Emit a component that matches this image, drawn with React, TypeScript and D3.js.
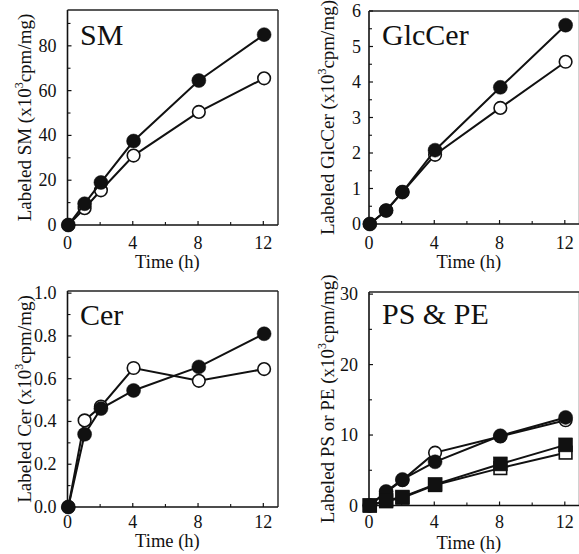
import React from "react";
import * as d3 from "d3";

const time = [0, 1, 2, 4, 8, 12];
const xTicks = [0, 4, 8, 12];
const xMinorTicks = [2, 6, 10];

const smFilled = [0, 9.5, 19, 37.5, 64.5, 85];
const smOpen = [0, 7.5, 15.5, 31, 50.5, 65.5];
const smTicks = [0, 20, 40, 60, 80];
const smMinor = [10, 30, 50, 70, 90];

const glcFilled = [0, 0.38, 0.9, 2.08, 3.85, 5.6];
const glcOpen = [0, 0.38, 0.9, 1.95, 3.27, 4.57];
const glcTicks = [0, 1, 2, 3, 4, 5, 6];
const glcMinor = [0.5, 1.5, 2.5, 3.5, 4.5, 5.5];

const cerFilled = [0, 0.34, 0.46, 0.545, 0.655, 0.81];
const cerOpen = [0, 0.405, 0.47, 0.65, 0.59, 0.645];
const cerTicks = [0, 0.2, 0.4, 0.6, 0.8, 1.0];
const cerMinor = [0.1, 0.3, 0.5, 0.7, 0.9];

const psFilled = [0, 2.0, 3.7, 6.2, 9.9, 12.5];
const psOpen = [0, 1.9, 3.6, 7.5, 9.8, 12.1];
const peFilled = [0, 0.7, 1.2, 3.0, 5.9, 8.6];
const peOpen = [0, 0.6, 1.1, 2.9, 5.3, 7.5];
const psTicks = [0, 10, 20, 30];
const psMinor = [5, 15, 25];

const FONT = "'Liberation Serif', 'Times New Roman', serif";

type Series = { values: number[]; shape: "circle" | "square"; filled: boolean };

type PanelProps = {
  left: number;
  top: number;
  bottom: number;
  yMax: number;
  yTicks: number[];
  yMinor: number[];
  fmt: (v: number) => string;
  title: string;
  titleX: number;
  titleY: number;
  yLabel: string;
  yLabelX: number;
  tickGap: number;
  series: Series[];
  rightBorder: boolean;
  xLabelDy: number;
  tickDy: number;
};

function Panel(p: PanelProps) {
  const width = 210.5;
  const x = d3.scaleLinear().domain([0, 12.9]).range([p.left, p.left + width]);
  const y = d3.scaleLinear().domain([0, p.yMax]).range([p.bottom, p.top]);
  const line = d3
    .line<number>()
    .x((_, i) => x(time[i]) + 0.8)
    .y((d) => y(d));
  const right = p.left + width;
  const cy = (p.top + p.bottom) / 2;
  return (
    <g>
      <line x1={p.left} x2={p.left} y1={p.top} y2={p.bottom} stroke="#111" strokeWidth={1.6} />
      <line x1={p.left} x2={right} y1={p.bottom} y2={p.bottom} stroke="#111" strokeWidth={1.6} />
      <line x1={p.left} x2={right} y1={p.top} y2={p.top} stroke="#222" strokeWidth={1.4} />
      {p.rightBorder && (
        <line x1={right} x2={right} y1={p.top} y2={p.bottom} stroke="#222" strokeWidth={1.4} />
      )}
      {p.yTicks.map((t) => (
        <g key={"yt" + t}>
          <line x1={p.left} x2={p.left + 4} y1={y(t)} y2={y(t)} stroke="#111" strokeWidth={1.2} />
          <text
            x={p.left - p.tickGap}
            y={y(t) + 6}
            textAnchor="end"
            fontFamily={FONT}
            fontSize={18}
            fill="#111"
          >
            {p.fmt(t)}
          </text>
        </g>
      ))}
      {p.yMinor.map((t) => (
        <line key={"ym" + t} x1={p.left} x2={p.left + 3} y1={y(t)} y2={y(t)} stroke="#111" strokeWidth={1.1} />
      ))}
      {xTicks.map((t) => (
        <g key={"xt" + t}>
          <line x1={x(t)} x2={x(t)} y1={p.bottom} y2={p.bottom - 4} stroke="#111" strokeWidth={1.2} />
          <text
            x={x(t)}
            y={p.bottom + p.tickDy}
            textAnchor="middle"
            fontFamily={FONT}
            fontSize={18}
            fill="#111"
          >
            {t}
          </text>
        </g>
      ))}
      {xMinorTicks.map((t) => (
        <line key={"xm" + t} x1={x(t)} x2={x(t)} y1={p.bottom} y2={p.bottom - 3} stroke="#111" strokeWidth={1.1} />
      ))}
      <text
        x={(p.left + x(12)) / 2 + 2}
        y={p.bottom + p.xLabelDy}
        textAnchor="middle"
        fontFamily={FONT}
        fontSize={18.5}
        fill="#111"
      >
        Time (h)
      </text>
      <text
        transform={`translate(${p.yLabelX},${cy}) rotate(-90)`}
        textAnchor="middle"
        fontFamily={FONT}
        fontSize={19}
        fill="#111"
      >
        {p.yLabel} (x10
        <tspan fontSize={12} dy={-8}>
          3
        </tspan>
        <tspan dy={8}>cpm/mg)</tspan>
      </text>
      <text x={p.titleX} y={p.titleY} fontFamily={FONT} fontSize={30} fill="#111">
        {p.title}
      </text>
      {p.series.map((s, si) => (
        <g key={"s" + si}>
          <path d={line(s.values) || ""} fill="none" stroke="#111" strokeWidth={2} />
          {s.values.map((v, i) =>
            s.shape === "circle" ? (
              <circle
                key={i}
                cx={x(time[i]) + 0.8}
                cy={y(v)}
                r={s.filled ? 7 : 6.3}
                fill={s.filled ? "#111" : "#fff"}
                stroke="#111"
                strokeWidth={s.filled ? 0.5 : 1.6}
              />
            ) : (
              <rect
                key={i}
                x={x(time[i]) + 0.8 - (s.filled ? 7 : 6.3)}
                y={y(v) - (s.filled ? 7 : 6.3)}
                width={s.filled ? 14 : 12.6}
                height={s.filled ? 14 : 12.6}
                fill={s.filled ? "#111" : "#fff"}
                stroke="#111"
                strokeWidth={s.filled ? 0.5 : 1.6}
              />
            )
          )}
        </g>
      ))}
    </g>
  );
}

export default function App() {
  return (
    <svg
      width={579}
      height={554}
      style={{ position: "absolute", left: 0, top: 0, background: "#fff" }}
    >
      <rect width={579} height={554} fill="#fff" />
      <Panel
        left={67.5}
        top={10}
        bottom={225}
        yMax={96}
        yTicks={smTicks}
        yMinor={smMinor}
        fmt={(v) => String(v)}
        title="SM"
        titleX={80}
        titleY={45}
        yLabel="Labeled SM"
        yLabelX={31}
        tickGap={11}
        rightBorder={true}
        tickDy={24}
        xLabelDy={43}
        series={[
          { values: smOpen, shape: "circle", filled: false },
          { values: smFilled, shape: "circle", filled: true },
        ]}
      />
      <Panel
        left={369}
        top={11}
        bottom={224}
        yMax={6}
        yTicks={glcTicks}
        yMinor={glcMinor}
        fmt={(v) => String(v)}
        title="GlcCer"
        titleX={382}
        titleY={45}
        yLabel="Labeled GlcCer"
        yLabelX={334}
        tickGap={8}
        rightBorder={true}
        tickDy={25}
        xLabelDy={44}
        series={[
          { values: glcOpen, shape: "circle", filled: false },
          { values: glcFilled, shape: "circle", filled: true },
        ]}
      />
      <Panel
        left={67.5}
        top={291}
        bottom={507}
        yMax={1.01}
        yTicks={cerTicks}
        yMinor={cerMinor}
        fmt={(v) => v.toFixed(1)}
        title="Cer"
        titleX={80}
        titleY={325}
        yLabel="Labeled Cer"
        yLabelX={31}
        tickGap={11}
        rightBorder={true}
        tickDy={21}
        xLabelDy={40}
        series={[
          { values: cerOpen, shape: "circle", filled: false },
          { values: cerFilled, shape: "circle", filled: true },
        ]}
      />
      <Panel
        left={369}
        top={292}
        bottom={505.5}
        yMax={30.3}
        yTicks={psTicks}
        yMinor={psMinor}
        fmt={(v) => String(v)}
        title="PS & PE"
        titleX={382}
        titleY={324}
        yLabel="Labeled PS or PE"
        yLabelX={334}
        tickGap={11}
        rightBorder={true}
        tickDy={22}
        xLabelDy={43}
        series={[
          { values: psOpen, shape: "circle", filled: false },
          { values: psFilled, shape: "circle", filled: true },
          { values: peOpen, shape: "square", filled: false },
          { values: peFilled, shape: "square", filled: true },
        ]}
      />
    </svg>
  );
}
